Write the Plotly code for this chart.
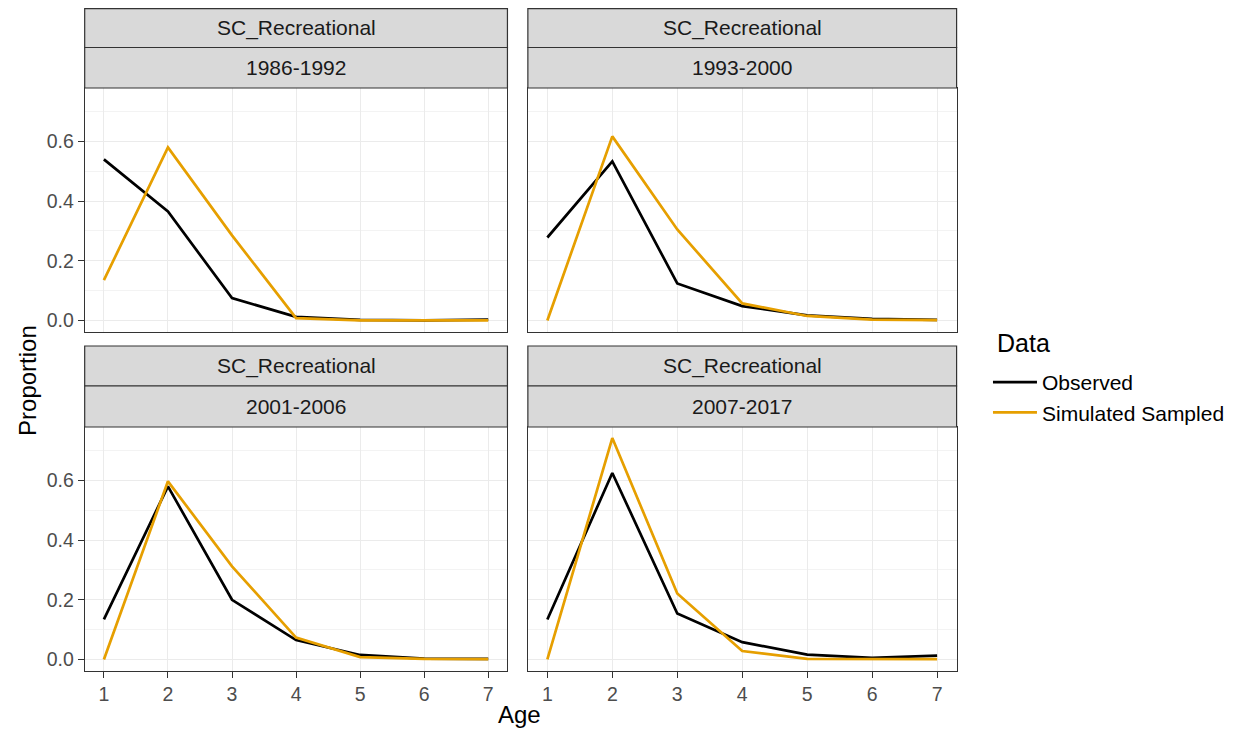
import plotly.graph_objects as go

ages = [1, 2, 3, 4, 5, 6, 7]
fleet = "SC_Recreational"
periods = ["1986-1992", "1993-2000", "2001-2006", "2007-2017"]
observed = {
    "1986-1992": [0.540, 0.365, 0.075, 0.012, 0.002, 0.000, 0.003],
    "1993-2000": [0.278, 0.533, 0.124, 0.048, 0.017, 0.005, 0.002],
    "2001-2006": [0.134, 0.580, 0.200, 0.065, 0.015, 0.003, 0.002],
    "2007-2017": [0.134, 0.625, 0.154, 0.058, 0.016, 0.005, 0.013],
}
simulated = {
    "1986-1992": [0.135, 0.580, 0.285, 0.008, 0.000, 0.000, 0.000],
    "1993-2000": [0.000, 0.617, 0.305, 0.057, 0.015, 0.003, 0.001],
    "2001-2006": [0.000, 0.597, 0.312, 0.073, 0.008, 0.002, 0.001],
    "2007-2017": [0.000, 0.742, 0.221, 0.028, 0.002, 0.001, 0.001],
}
series_names = ["Observed", "Simulated Sampled"]
series_colors = ["#000000", "#E69F00"]
yticks = [0.0, 0.2, 0.4, 0.6]
ytick_text = ["0.0", "0.2", "0.4", "0.6"]

# page body has an 8px margin; figure is sized to fit inside the window
OFF = 8
W, H = 1238 - 2 * OFF, 738 - 2 * OFF
def px(x):
    return (x - OFF) / W
def py(y):
    return 1 - (y - OFF) / H

cols = [(85, 509.5), (530, 960.5)]
rows = [dict(strip1=(8.6, 47.5), strip2=(47.5, 88), plot=(88, 331.5)),
        dict(strip1=(346, 386), strip2=(386, 427), plot=(427, 670.5))]

fig = go.Figure()
shapes = []
annotations = []
grid = "#EBEBEB"
dark = "#333333"
font_family = "Liberation Sans, Arial, sans-serif"
tick_size = 19.5
strip_size = 21
title_size = 24

allvals = [v for d in (observed, simulated) for p in d.values() for v in p]
ymax = max(allvals); ymin = min(allvals)
span = ymax - ymin
yrange = [ymin - 0.05 * span, ymax + 0.05 * span]
xrange = [1 - 0.05 * 6, 7 + 0.05 * 6]

for i, period in enumerate(periods):
    r, c = divmod(i, 2)
    n = i + 1
    xa = "x" if n == 1 else f"x{n}"
    ya = "y" if n == 1 else f"y{n}"
    x0, x1 = cols[c]
    row = rows[r]
    for k, (name, data) in enumerate(zip(series_names, [observed, simulated])):
        fig.add_trace(go.Scatter(
            x=ages, y=data[period], mode="lines", name=name,
            line=dict(color=series_colors[k], width=2.7),
            xaxis=xa, yaxis=ya, showlegend=(i == 0), legendgroup=name,
        ))
    xkey = "xaxis" if n == 1 else f"xaxis{n}"
    ykey = "yaxis" if n == 1 else f"yaxis{n}"
    fig.update_layout(**{
        xkey: dict(domain=[px(x0), px(x1)], anchor=ya, range=xrange,
                   tickvals=ages, ticktext=[str(a) for a in ages],
                   showticklabels=(r == 1), ticks="outside" if r == 1 else "",
                   ticklen=6, tickcolor=dark, tickwidth=1.2,
                   showgrid=True, gridcolor=grid, gridwidth=1,
                   showline=True, mirror=True, linecolor=dark, linewidth=1,
                   zeroline=False,
                   tickfont=dict(size=tick_size, color="#4D4D4D", family=font_family)),
        ykey: dict(domain=[py(row["plot"][1]), py(row["plot"][0])], anchor=xa, range=yrange,
                   tickvals=yticks, ticktext=ytick_text,
                   showticklabels=(c == 0), ticks="outside" if c == 0 else "",
                   ticklen=6, tickcolor=dark, tickwidth=1.2,
                   showgrid=True, gridcolor=grid, gridwidth=1,
                   minor=dict(tickvals=[0.1, 0.3, 0.5, 0.7], showgrid=True,
                              gridcolor="#F3F3F3", gridwidth=0.6, ticks=""),
                   showline=True, mirror=True, linecolor=dark, linewidth=1,
                   zeroline=False,
                   tickfont=dict(size=tick_size, color="#4D4D4D", family=font_family)),
    })
    for key, label in (("strip1", fleet), ("strip2", period)):
        s0, s1 = row[key]
        shapes.append(dict(type="rect", xref="paper", yref="paper",
                           x0=px(x0), x1=px(x1), y0=py(s1), y1=py(s0),
                           fillcolor="#D9D9D9", line=dict(color=dark, width=1.2),
                           layer="above"))
        annotations.append(dict(xref="paper", yref="paper",
                                x=px((x0 + x1) / 2), y=py((s0 + s1) / 2),
                                text=label, showarrow=False,
                                xanchor="center", yanchor="middle",
                                font=dict(size=strip_size, color="#1A1A1A", family=font_family)))

annotations.append(dict(xref="paper", yref="paper", x=px(522), y=0, text="Age",
                        showarrow=False, xanchor="center", yanchor="bottom",
                        font=dict(size=title_size, color="#000000", family=font_family)))
annotations.append(dict(xref="paper", yref="paper", x=px(27), y=py(380), text="Proportion",
                        showarrow=False, textangle=-90, xanchor="center", yanchor="middle",
                        font=dict(size=title_size, color="#000000", family=font_family)))
annotations.append(dict(xref="paper", yref="paper", x=px(999), y=py(343), text="Data",
                        showarrow=False, xanchor="left", yanchor="middle",
                        font=dict(size=25, color="#000000", family=font_family)))

fig.update_layout(
    width=W, height=H,
    margin=dict(l=0, r=0, t=0, b=0),
    paper_bgcolor="white", plot_bgcolor="white",
    shapes=shapes, annotations=annotations,
    legend=dict(x=px(992), y=py(362), xanchor="left", yanchor="top",
                font=dict(size=21, color="#000000", family=font_family),
                tracegroupgap=0, itemwidth=44, bgcolor="rgba(0,0,0,0)"),
    font=dict(family=font_family),
)

fig.write_html("out.html")
